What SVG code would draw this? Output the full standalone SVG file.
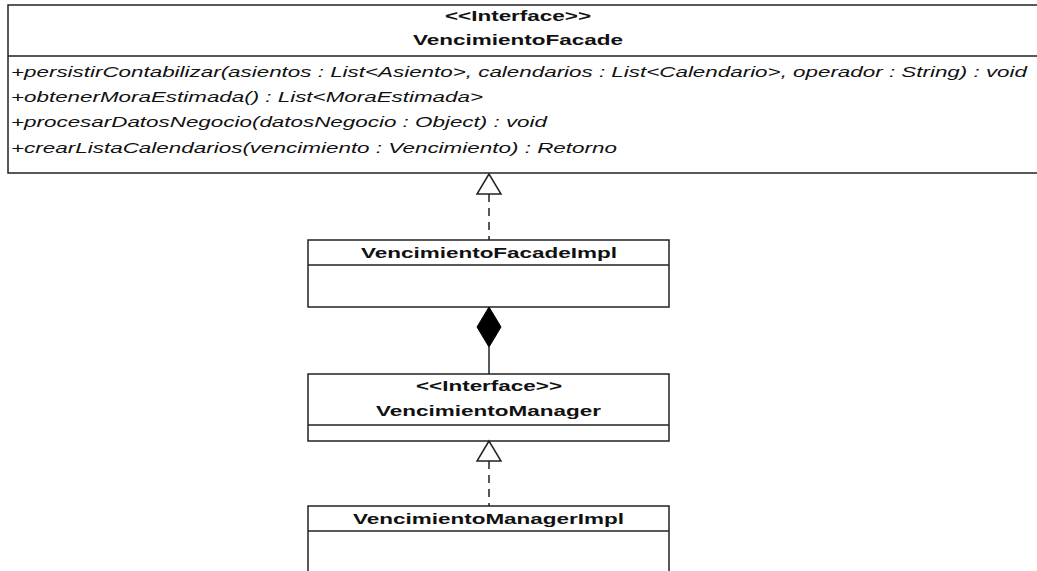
<svg xmlns="http://www.w3.org/2000/svg" width="1037" height="571" viewBox="0 0 1037 571">
  <style>
    .box { fill: #fff; stroke: #222; stroke-width: 1.5; }
    .sep { stroke: #222; stroke-width: 1.5; }
    .bold { font-family: "Liberation Sans", Arial, sans-serif; font-weight: bold; font-size: 14px; fill: #111; }
    .op { font-family: "Liberation Sans", Arial, sans-serif; font-style: italic; font-size: 14px; fill: #111; }
    .edge { stroke: #222; stroke-width: 1.5; fill: none; }
    .dash { stroke-dasharray: 8 6; }
    .hollow { fill: #fff; stroke: #222; stroke-width: 1.5; }
    .solid { fill: #000; stroke: #000; stroke-width: 1; }
  </style>
  <rect width="1037" height="571" fill="#fff"/>

  <!-- interface VencimientoFacade -->
  <g id="VencimientoFacade">
    <rect class="box" x="8" y="5" width="1040" height="168"/>
    <line class="sep" x1="8" y1="56" x2="1048" y2="56"/>
    <text class="bold" x="445" y="21" textLength="146" lengthAdjust="spacingAndGlyphs">&lt;&lt;Interface&gt;&gt;</text>
    <text class="bold" x="413" y="45" textLength="210" lengthAdjust="spacingAndGlyphs">VencimientoFacade</text>
    <text class="op" x="11" y="77" textLength="1016" lengthAdjust="spacingAndGlyphs">+persistirContabilizar(asientos : List&lt;Asiento&gt;, calendarios : List&lt;Calendario&gt;, operador : String) : void</text>
    <text class="op" x="11" y="102" textLength="472" lengthAdjust="spacingAndGlyphs">+obtenerMoraEstimada() : List&lt;MoraEstimada&gt;</text>
    <text class="op" x="11" y="127" textLength="536" lengthAdjust="spacingAndGlyphs">+procesarDatosNegocio(datosNegocio : Object) : void</text>
    <text class="op" x="11" y="153" textLength="606" lengthAdjust="spacingAndGlyphs">+crearListaCalendarios(vencimiento : Vencimiento) : Retorno</text>
  </g>

  <!-- class VencimientoFacadeImpl -->
  <g id="VencimientoFacadeImpl">
    <rect class="box" x="308" y="240" width="361" height="67"/>
    <line class="sep" x1="308" y1="265" x2="669" y2="265"/>
    <text class="bold" x="361" y="258" textLength="256" lengthAdjust="spacingAndGlyphs">VencimientoFacadeImpl</text>
  </g>

  <!-- interface VencimientoManager -->
  <g id="VencimientoManager">
    <rect class="box" x="308" y="374" width="361" height="67"/>
    <line class="sep" x1="308" y1="425" x2="669" y2="425"/>
    <text class="bold" x="416" y="391" textLength="146" lengthAdjust="spacingAndGlyphs">&lt;&lt;Interface&gt;&gt;</text>
    <text class="bold" x="376" y="416" textLength="225" lengthAdjust="spacingAndGlyphs">VencimientoManager</text>
  </g>

  <!-- class VencimientoManagerImpl -->
  <g id="VencimientoManagerImpl">
    <rect class="box" x="308" y="506" width="361" height="90"/>
    <line class="sep" x1="308" y1="531" x2="669" y2="531"/>
    <text class="bold" x="353" y="524" textLength="271" lengthAdjust="spacingAndGlyphs">VencimientoManagerImpl</text>
  </g>

  <!-- relationships -->
  <g id="connectors">
    <!-- FacadeImpl realizes Facade -->
    <line class="edge dash" x1="489" y1="194" x2="489" y2="240"/>
    <polygon class="hollow" points="489,174 477,194 501,194"/>
    <!-- FacadeImpl composes Manager -->
    <line class="edge" x1="489" y1="347" x2="489" y2="374"/>
    <polygon class="solid" points="489,307 477,327 489,347 501,327"/>
    <!-- ManagerImpl realizes Manager -->
    <line class="edge dash" x1="489" y1="461" x2="489" y2="506"/>
    <polygon class="hollow" points="489,441 477,461 501,461"/>
  </g>
</svg>
